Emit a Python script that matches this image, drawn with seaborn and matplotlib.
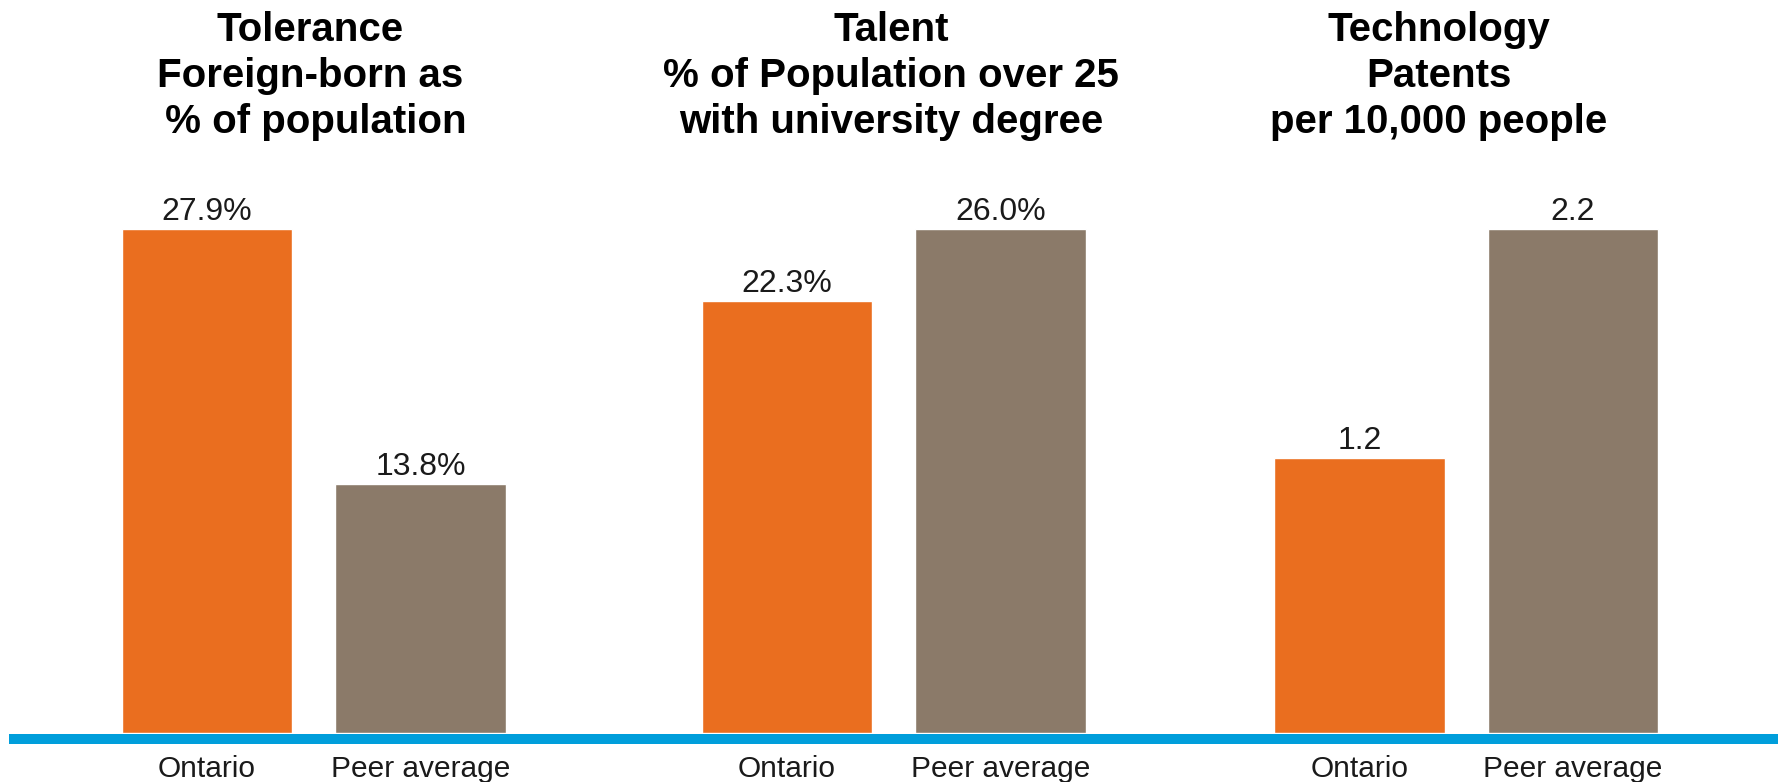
import matplotlib
matplotlib.use("Agg")
import matplotlib.pyplot as plt
from matplotlib.lines import Line2D
import seaborn as sns
import pandas as pd

# ---- data ----
categories = ["Ontario", "Peer average"]
titles = [
    "Tolerance\nForeign-born as\n % of population",
    "Talent\n% of Population over 25\nwith university degree",
    "Technology\nPatents\nper 10,000 people",
]
tolerance_values = [27.9, 13.8]
talent_values = [22.3, 26.0]
technology_values = [1.2, 2.2]
tolerance_labels = ["27.9%", "13.8%"]
talent_labels = ["22.3%", "26.0%"]
technology_labels = ["1.2", "2.2"]

panels = [
    (tolerance_values, tolerance_labels),
    (talent_values, talent_labels),
    (technology_values, technology_labels),
]

ORANGE = "#EA6E1F"
GREY = "#8B7A69"
BLUE = "#009EDB"

sns.set_style("white")
plt.rcParams["font.family"] = ["Liberation Sans", "DejaVu Sans"]

W, H = 1778, 782
fig = plt.figure(figsize=(W / 100, H / 100), dpi=100)

ax_lefts_px = [100.25, 680.25, 1252.75]
ax_width_px = 427
ax_bottom_px = 733
ax_top_px = 229
title_x_px = [310, 891, 1439]

for i, (vals, labs) in enumerate(panels):
    ax = fig.add_axes([
        ax_lefts_px[i] / W,
        (H - ax_bottom_px) / H,
        ax_width_px / W,
        (ax_bottom_px - ax_top_px) / H,
    ])
    df = pd.DataFrame({"cat": categories, "val": vals})
    sns.barplot(data=df, x="cat", y="val", hue="cat",
                palette=[ORANGE, GREY], saturation=1, width=0.8,
                legend=False, ax=ax)
    ax.set_ylim(0, max(vals))
    ax.set_xlim(-0.5, 1.5)
    patches = sorted(ax.patches, key=lambda r: r.get_x())
    for p, lab in zip(patches, labs):
        ax.annotate(lab, (p.get_x() + p.get_width() / 2, p.get_height()),
                    xytext=(0, 1.2), textcoords="offset points",
                    ha="center", va="bottom", fontsize=23, color="#1a1a1a",
                    annotation_clip=False)
    ax.set_xlabel("")
    ax.set_ylabel("")
    ax.set_yticks([])
    ax.tick_params(axis="x", length=0, pad=16, labelsize=21.5, labelcolor="#1a1a1a")
    for s in ax.spines.values():
        s.set_visible(False)
    ax.patch.set_alpha(0)

    fig.text(title_x_px[i] / W, (H - 11) / H, titles[i], ha="center", va="top",
             fontsize=29, fontweight="bold", color="black", linespacing=1.26)

# blue baseline
fig.add_artist(Line2D([9 / W, 1.0], [(H - 739) / H] * 2, transform=fig.transFigure,
                      color=BLUE, lw=7.2, solid_capstyle="butt", zorder=10))

fig.savefig("out.png", dpi=100)
